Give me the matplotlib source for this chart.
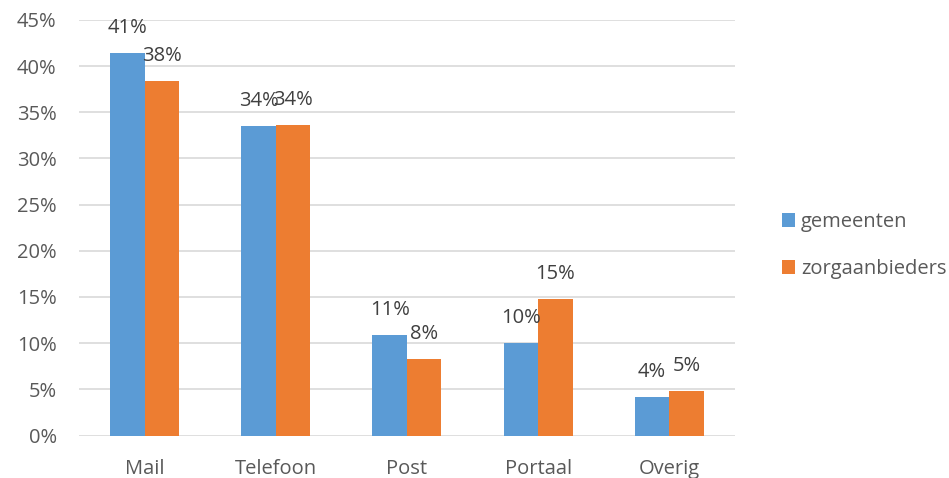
import numpy as np
import matplotlib.pyplot as plt

# kanalen en percentages
categories = ["Mail", "Telefoon", "Post", "Portaal", "Overig"]
gemeenten = [41.4, 33.5, 10.9, 10.0, 4.2]
zorgaanbieders = [38.4, 33.6, 8.3, 14.8, 4.8]
series_names = ["gemeenten", "zorgaanbieders"]
yticks = [0, 5, 10, 15, 20, 25, 30, 35, 40, 45]

blue = "#5B9BD5"
orange = "#ED7D31"
txt = "#595959"
fs = 14.5

plt.rcParams['font.family'] = ['Open Sans', 'DejaVu Sans']

fig = plt.figure(figsize=(9.49, 4.78), dpi=100)
ax = fig.add_axes([0.0832, 0.0889, 0.6913, 0.8693])

x = np.arange(len(categories))
w = 0.263
b1 = ax.bar(x - w / 2, gemeenten, w, color=blue, label=series_names[0], zorder=3)
b2 = ax.bar(x + w / 2, zorgaanbieders, w, color=orange, label=series_names[1], zorder=3)

# labels boven de staven
for bars, vals in ((b1, gemeenten), (b2, zorgaanbieders)):
    for rect, v in zip(bars, vals):
        ax.annotate("%d%%" % round(v), (rect.get_x() + rect.get_width() / 2, v),
                    xytext=(0, 25), textcoords="offset pixels",
                    ha="center", va="center", fontsize=fs, color="#404040")

ax.set_xlim(-0.5, len(categories) - 0.5)
ax.set_ylim(0, 45)
ax.set_yticks(yticks)
ax.set_yticklabels(["%d%%" % t for t in yticks])
ax.set_xticks(x)
ax.set_xticklabels(categories)
ax.tick_params(axis="both", length=0, labelsize=fs, colors=txt)
ax.tick_params(axis="y", pad=16)
ax.tick_params(axis="x", pad=17)
ax.grid(axis="y", color="#D9D9D9", linewidth=1.2, zorder=0)
for s in ax.spines.values():
    s.set_visible(False)

fig.legend(handles=[b1, b2], loc="center left", bbox_to_anchor=(0.805, 0.486),
           frameon=False, fontsize=fs, handlelength=0.65, handleheight=0.65,
           handletextpad=0.3, labelspacing=1.35, labelcolor=txt)

fig.savefig("out.png", dpi=100)
